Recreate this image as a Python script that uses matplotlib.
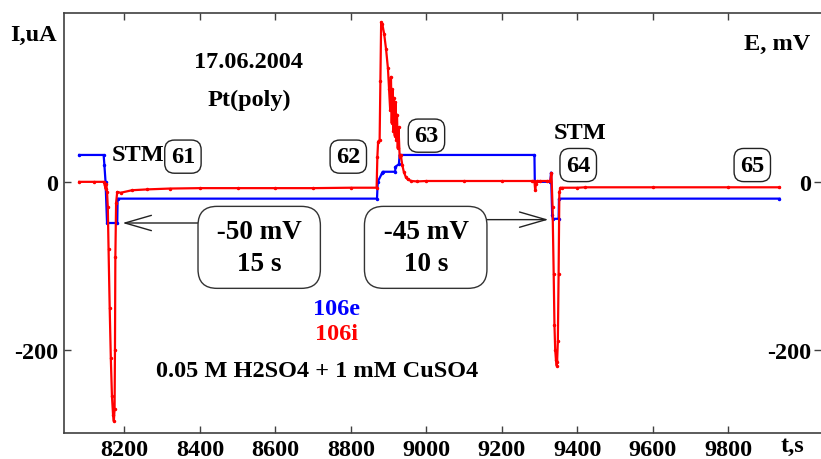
import matplotlib
matplotlib.use("Agg")
import matplotlib.pyplot as plt

# current, uA (106i)
t_red = [8080, 8120, 8145, 8148, 8150, 8152, 8154, 8156, 8158, 8161, 8164, 8167, 8170,
         8172, 8174, 8175, 8176, 8178, 8181, 8190, 8220, 8260, 8320, 8400, 8500, 8600,
         8700, 8800, 8868, 8870, 8872, 8876, 8878, 8880, 8883, 8888, 8893, 8898, 8901,
         8904, 8906, 8908, 8910, 8912, 8914, 8916, 8918, 8920, 8922, 8924, 8926, 8929,
         8932, 8936, 8940, 8945, 8950, 8960, 8975, 9000, 9100, 9200, 9280, 9286, 9288,
         9290, 9294, 9300, 9320, 9328, 9331, 9334, 9337, 9339, 9341, 9343, 9345, 9346,
         9348, 9350, 9352, 9355, 9360, 9400, 9420, 9600, 9800, 9935]
i_red = [0, 0, 0, -4, -8, -3, -12, -30, -80, -150, -210, -255, -278,
         -285, -270, -200, -90, -25, -12, -13, -10, -9, -8, -7.5, -7.5, -7.5,
         -7.5, -7, -7, 30, 48, 50, 120, 190, 188, 176, 158, 135, 110,
         85, 125, 70, 110, 60, 100, 55, 95, 50, 80, 40, 65, 30,
         32, 20, 12, 6, 3, 1, 0.5, 1, 1, 1, 1, 1, -10,
         -2, 1, 1, 1, 1, 10, -30, -110, -170, -200, -212, -219, -215,
         -190, -110, -12, -7, -7, -7, -6.5, -6.5, -6.5, -6.5]

# potential, mV (106e)
t_blue = [8080, 8145, 8147, 8150, 8154, 8181, 8182, 8869, 8871, 8882, 8884, 8917,
          8918, 8927, 8929, 9286, 9287, 9328, 9330, 9333, 9335, 9350, 9351, 9935]
e_blue = [32, 32, 20, 0, -49, -49, -20, -20, 0, 10, 12, 12,
          18, 21, 32, 32, 0, 0, 11, -40, -44, -44, -20, -20]

x_ticks = [8200, 8400, 8600, 8800, 9000, 9200, 9400, 9600, 9800]
y_ticks = [-200, 0]

FONT = "Liberation Serif"
plt.rcParams['font.family'] = [FONT, 'DejaVu Serif']
plt.rcParams['font.weight'] = 'bold'
FS = 17.5

fig = plt.figure(figsize=(8.21, 4.60), dpi=100)
ax = fig.add_axes([64 / 821, 26 / 460, 757 / 821, 420 / 460])

ax.plot(t_blue, e_blue, color='#0000ff', lw=1.6, marker='.', ms=3, zorder=3)
ax.plot(t_red, i_red, color='#ff0000', lw=1.6, marker='.', ms=3, zorder=4)

ax.set_xlim(8040, 10045)
ax.set_ylim(-299, 201)
ax.set_xticks(x_ticks)
ax.set_yticks(y_ticks)
ax.set_yticklabels(['-200', '0'])
spine_col = '#404040'
for side in ['left', 'top', 'bottom']:
    ax.spines[side].set_color(spine_col)
    ax.spines[side].set_linewidth(1.2)
ax.spines['right'].set_visible(False)
ax.tick_params(axis='both', direction='in', length=5, width=1, color=spine_col,
               labelsize=FS, pad=4)
ax.tick_params(axis='x', top=True, pad=4)

ax2 = ax.twinx()
ax2.set_ylim(ax.get_ylim())
ax2.set_yticks(y_ticks)
ax2.set_yticklabels(['-200', '0'])
ax2.spines[:].set_visible(False)
ax2.tick_params(axis='y', direction='in', length=5, width=1, color=spine_col,
                labelsize=FS, pad=-7)
for lab in ax2.get_yticklabels():
    lab.set_horizontalalignment('right')

ax.text(-0.04, 0.95, "I,uA", transform=ax.transAxes, fontsize=FS, ha='center', va='center')
ax.text(0.942, 0.928, "E, mV", transform=ax.transAxes, fontsize=FS, ha='center', va='center')
ax.text(9969, -0.03, "t,s", transform=ax.get_xaxis_transform(), fontsize=FS,
        ha='center', va='center')

ax.text(8528, 143, "17.06.2004", fontsize=FS, ha='center', va='center')
ax.text(8531, 98, "Pt(poly)", fontsize=FS, ha='center', va='center')
ax.text(8237, 33, "STM", fontsize=FS, ha='center', va='center')
ax.text(9408, 59, "STM", fontsize=FS, ha='center', va='center')

num_box = dict(boxstyle='round,pad=0.25,rounding_size=0.4', fc='white', ec='#222222', lw=1)
for tx, ty, s in [(8355, 30, "61"), (8793, 30, "62"), (9000, 55, "63"),
                  (9402, 20, "64"), (9863, 20, "65")]:
    ax.text(tx, ty, s, fontsize=FS, ha='center', va='center', bbox=num_box, zorder=5)

big_box = dict(boxstyle='round,pad=0.45,rounding_size=0.7', fc='white', ec='#333333', lw=1)
ax.text(8557, -78, " -50 mV \n15 s", fontsize=19.5, ha='center', va='center',
        linespacing=1.4, bbox=big_box, zorder=5)
ax.text(8998, -78, " -45 mV \n10 s", fontsize=19.5, ha='center', va='center',
        linespacing=1.4, bbox=big_box, zorder=5)

arrow = dict(arrowstyle='->,head_length=1.9,head_width=0.55', color='#222222', lw=1,
             shrinkA=0, shrinkB=0)
ax.annotate('', xy=(8195, -49), xytext=(8400, -49), arrowprops=arrow, zorder=4.5)
ax.annotate('', xy=(9323, -45), xytext=(9155, -45), arrowprops=arrow, zorder=4.5)

ax.text(8761, -151, "106e", color='#0000ff', fontsize=FS, ha='center', va='center')
ax.text(8761, -181, "106i", color='#ff0000', fontsize=FS, ha='center', va='center')
ax.text(8710, -225, "0.05 M H2SO4 + 1 mM CuSO4", fontsize=FS, ha='center', va='center')

fig.savefig("out.png", dpi=100)
